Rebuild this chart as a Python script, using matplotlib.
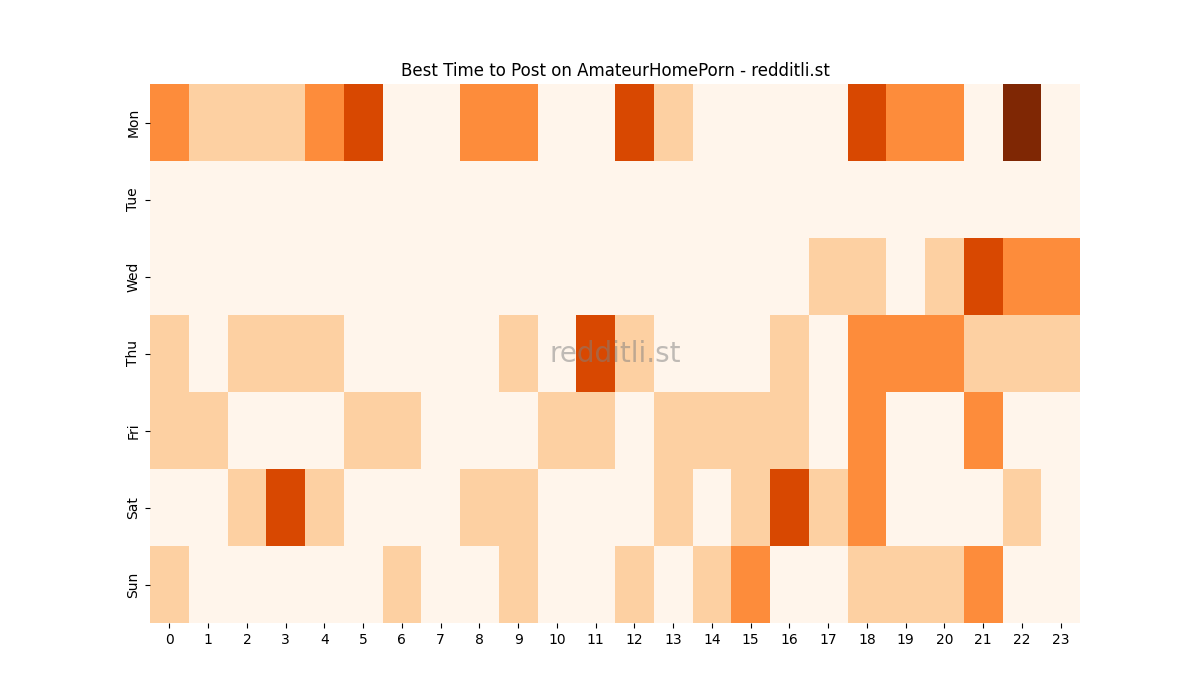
import numpy as np
import matplotlib
matplotlib.use("Agg")
import matplotlib.pyplot as plt

days = ["Mon", "Tue", "Wed", "Thu", "Fri", "Sat", "Sun"]
hours = list(range(24))

mon = [2, 1, 1, 1, 2, 3, 0, 0, 2, 2, 0, 0, 3, 1, 0, 0, 0, 0, 3, 2, 2, 0, 4, 0]
tue = [0] * 24
wed = [0, 0, 0, 0, 0, 0, 0, 0, 0, 0, 0, 0, 0, 0, 0, 0, 0, 1, 1, 0, 1, 3, 2, 2]
thu = [1, 0, 1, 1, 1, 0, 0, 0, 0, 1, 0, 3, 1, 0, 0, 0, 1, 0, 2, 2, 2, 1, 1, 1]
fri = [1, 1, 0, 0, 0, 1, 1, 0, 0, 0, 1, 1, 0, 1, 1, 1, 1, 0, 2, 0, 0, 2, 0, 0]
sat = [0, 0, 1, 3, 1, 0, 0, 0, 1, 1, 0, 0, 0, 1, 0, 1, 3, 1, 2, 0, 0, 0, 1, 0]
sun = [1, 0, 0, 0, 0, 0, 1, 0, 0, 1, 0, 0, 1, 0, 1, 2, 0, 0, 1, 1, 1, 2, 0, 0]

data = np.array([mon, tue, wed, thu, fri, sat, sun])

fig, ax = plt.subplots(figsize=(12, 7), dpi=100)
ax.pcolormesh(data, cmap="Oranges", vmin=0, vmax=4)
ax.set_xlim(0, 24)
ax.set_ylim(7, 0)
ax.set_xticks(np.arange(24) + 0.5)
ax.set_xticklabels(hours)
ax.set_yticks(np.arange(7) + 0.5)
ax.set_yticklabels(days, rotation=90, va="center")
for s in ax.spines.values():
    s.set_visible(False)
ax.set_title("Best Time to Post on AmateurHomePorn - redditli.st")
ax.text(0.5, 0.5, "redditli.st", transform=ax.transAxes, ha="center",
        va="center", fontsize=20, color="gray", alpha=0.5)

fig.savefig("out.png", dpi=100)
